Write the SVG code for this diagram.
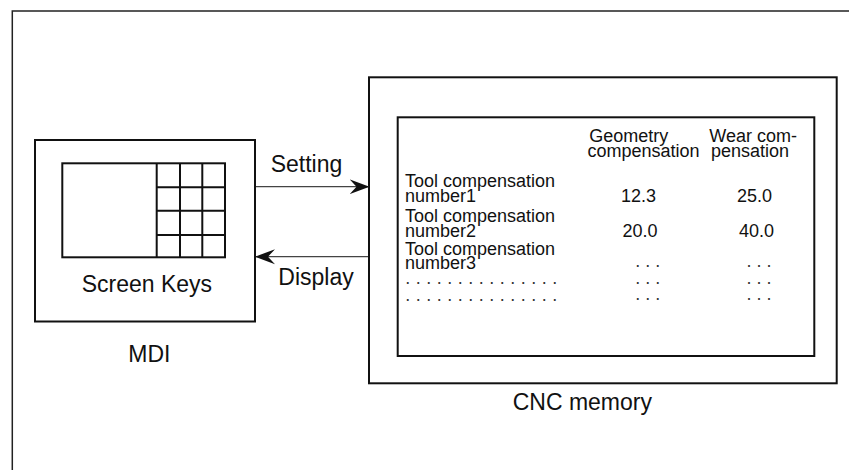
<svg xmlns="http://www.w3.org/2000/svg" width="849" height="470" viewBox="0 0 849 470">
<style>
.box{fill:none;stroke:#111;stroke-width:2}
.grid{fill:none;stroke:#111;stroke-width:2}
.frame{fill:none;stroke:#222;stroke-width:1.5}
.conn{fill:none;stroke:#444;stroke-width:1.2}
.lbl{font-family:"Liberation Sans",Arial,sans-serif;font-size:23px;fill:#111}
.tx{font-family:"Liberation Sans",Arial,sans-serif;font-size:18px;fill:#111}
.dots{font-family:"Liberation Sans",Arial,sans-serif;font-size:18px;fill:#333}
</style>
<defs>
<marker id="ah" viewBox="0 0 20 16" refX="19" refY="8" markerWidth="20" markerHeight="16" markerUnits="userSpaceOnUse" orient="auto">
<path d="M0,0.5 L20,8 L0,15.5 L7,8 Z" fill="#111"/>
</marker>
</defs>
<rect width="849" height="470" fill="#fff"/>
<path class="frame" d="M12.3,480 L12.3,11 L860,11"/>
<g id="mdi">
<rect class="box" x="35" y="140" width="220" height="181.5"/>
<rect class="grid" x="62.3" y="163.3" width="162.7" height="94"/>
<path class="grid" d="M156.7,163.3 V257.3 M180,163.3 V257.3 M202.3,163.3 V257.3 M156.7,187.3 H225 M156.7,210.7 H225 M156.7,235 H225"/>
<text class="lbl" x="81.7" y="291.7">Screen Keys</text>
<text class="lbl" x="128.3" y="361.7">MDI</text>
</g>
<g id="cnc">
<rect class="box" x="369" y="77.3" width="467.7" height="306"/>
<rect class="box" x="397.7" y="117.3" width="416.6" height="238.7"/>
<text class="tx" x="589.3" y="141.7">Geometry</text>
<text class="tx" x="587.5" y="156.7">compensation</text>
<text class="tx" x="709.3" y="141.7">Wear com-</text>
<text class="tx" x="711" y="156.7">pensation</text>
<text class="tx" x="405" y="187">Tool compensation</text>
<text class="tx" x="405" y="202">number1</text>
<text class="tx" x="405" y="221.5">Tool compensation</text>
<text class="tx" x="405" y="236.5">number2</text>
<text class="tx" x="405" y="255">Tool compensation</text>
<text class="tx" x="405" y="269">number3</text>
<text class="tx" x="638.5" y="202" text-anchor="middle">12.3</text>
<text class="tx" x="754.5" y="202" text-anchor="middle">25.0</text>
<text class="tx" x="640" y="236.5" text-anchor="middle">20.0</text>
<text class="tx" x="756.5" y="236.5" text-anchor="middle">40.0</text>
<text class="dots" x="405.2" y="284" letter-spacing="0.25">. . . . . . . . . . . . . . .</text>
<text class="dots" x="405.2" y="300.5" letter-spacing="0.25">. . . . . . . . . . . . . . .</text>
<text class="dots" x="635.2" y="266.5">. . .</text>
<text class="dots" x="635.2" y="283.5">. . .</text>
<text class="dots" x="635.2" y="300">. . .</text>
<text class="dots" x="746.5" y="266.5">. . .</text>
<text class="dots" x="746.5" y="283.5">. . .</text>
<text class="dots" x="746.5" y="300">. . .</text>
<text class="lbl" x="512.7" y="410">CNC memory</text>
</g>
<g id="connectors">
<line class="conn" x1="256" y1="186.7" x2="368.5" y2="186.7" marker-end="url(#ah)"/>
<line class="conn" x1="368" y1="256.7" x2="256" y2="256.7" marker-end="url(#ah)"/>
<text class="lbl" x="270.7" y="171.7">Setting</text>
<text class="lbl" x="278.3" y="285">Display</text>
</g>
</svg>
